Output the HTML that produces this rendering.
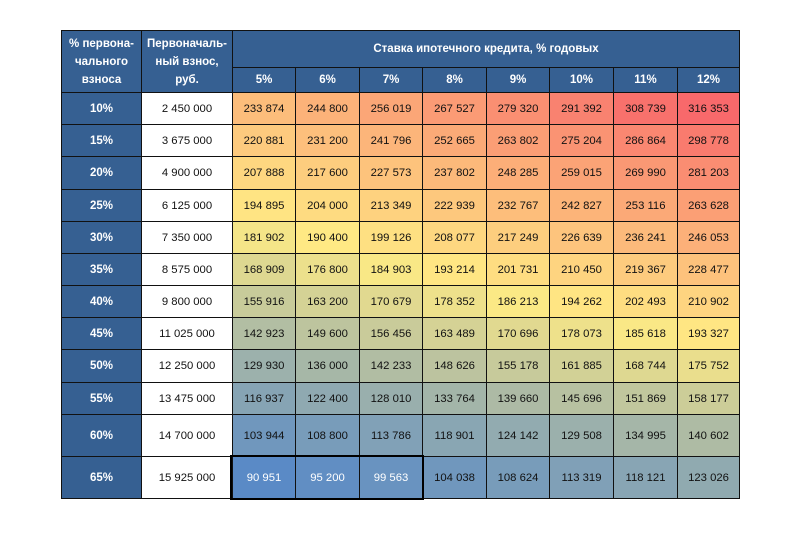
<!DOCTYPE html>
<html><head><meta charset="utf-8">
<style>
html,body{margin:0;padding:0;background:#fff;}
body{width:800px;height:533px;position:relative;overflow:hidden;font-family:"Liberation Sans","DejaVu Sans",sans-serif;}
.g{position:absolute;left:61px;top:30px;width:679px;height:469px;box-sizing:border-box;padding:1px;background:#111;display:grid;gap:1px;
grid-template-columns:79px 90px 62px 63px 62px 63px 62px 63px 63px 61px;
grid-template-rows:36px 24px 31px 31px 32px 31px 31px 31px 31px 31px 32px 31px 41px 41px;}
.g>div{display:flex;align-items:center;justify-content:center;text-align:center;font-size:11.3px;color:#111;}
.h{background:#366092;color:#fff !important;font-weight:bold;font-size:11.5px !important;line-height:18px;}
.w{background:#fff;}
.sel{position:absolute;left:230px;top:455px;width:194px;height:45px;border:2px solid #000;box-sizing:border-box;}
</style></head><body>
<div class="g">
<div class="h" style="grid-row:1/3;grid-column:1">% первона-<br>чального<br>взноса</div>
<div class="h" style="grid-row:1/3;grid-column:2">Первоначаль-<br>ный взнос,<br>руб.</div>
<div class="h" style="grid-row:1;grid-column:3/11">Ставка ипотечного кредита, % годовых</div>
<div class="h">5%</div><div class="h">6%</div><div class="h">7%</div><div class="h">8%</div><div class="h">9%</div><div class="h">10%</div><div class="h">11%</div><div class="h">12%</div>

<div class="h">10%</div><div class="w">2 450 000</div>
<div style="background:rgb(252,189,123)">233 874</div><div style="background:rgb(252,178,121)">244 800</div><div style="background:rgb(251,166,119)">256 019</div><div style="background:rgb(251,155,117)">267 527</div><div style="background:rgb(250,143,114)">279 320</div><div style="background:rgb(249,130,112)">291 392</div><div style="background:rgb(248,113,108)">308 739</div><div style="background:rgb(248,105,107)">316 353</div>

<div class="h">15%</div><div class="w">3 675 000</div>
<div style="background:rgb(253,202,126)">220 881</div><div style="background:rgb(253,191,124)">231 200</div><div style="background:rgb(252,181,122)">241 796</div><div style="background:rgb(251,170,119)">252 665</div><div style="background:rgb(251,158,117)">263 802</div><div style="background:rgb(250,147,115)">275 204</div><div style="background:rgb(250,135,113)">286 864</div><div style="background:rgb(249,123,110)">298 778</div>

<div class="h">20%</div><div class="w">4 900 000</div>
<div style="background:rgb(254,215,128)">207 888</div><div style="background:rgb(253,205,126)">217 600</div><div style="background:rgb(253,195,124)">227 573</div><div style="background:rgb(252,185,122)">237 802</div><div style="background:rgb(252,174,120)">248 285</div><div style="background:rgb(251,163,118)">259 015</div><div style="background:rgb(250,152,116)">269 990</div><div style="background:rgb(250,141,114)">281 203</div>

<div class="h">25%</div><div class="w">6 125 000</div>
<div style="background:rgb(255,228,131)">194 895</div><div style="background:rgb(254,219,129)">204 000</div><div style="background:rgb(254,210,127)">213 349</div><div style="background:rgb(253,200,125)">222 939</div><div style="background:rgb(253,190,123)">232 767</div><div style="background:rgb(252,180,121)">242 827</div><div style="background:rgb(251,169,119)">253 116</div><div style="background:rgb(251,159,117)">263 628</div>

<div class="h">30%</div><div class="w">7 350 000</div>
<div style="background:rgb(244,229,136)">181 902</div><div style="background:rgb(255,233,132)">190 400</div><div style="background:rgb(254,224,130)">199 126</div><div style="background:rgb(254,215,128)">208 077</div><div style="background:rgb(253,206,126)">217 249</div><div style="background:rgb(253,196,125)">226 639</div><div style="background:rgb(252,186,123)">236 241</div><div style="background:rgb(252,176,121)">246 053</div>

<div class="h">35%</div><div class="w">8 575 000</div>
<div style="background:rgb(222,216,145)">168 909</div><div style="background:rgb(236,224,140)">176 800</div><div style="background:rgb(249,232,134)">184 903</div><div style="background:rgb(255,230,131)">193 214</div><div style="background:rgb(254,221,129)">201 731</div><div style="background:rgb(254,212,128)">210 450</div><div style="background:rgb(253,203,126)">219 367</div><div style="background:rgb(253,194,124)">228 477</div>

<div class="h">40%</div><div class="w">9 800 000</div>
<div style="background:rgb(200,203,154)">155 916</div><div style="background:rgb(212,210,149)">163 200</div><div style="background:rgb(225,217,144)">170 679</div><div style="background:rgb(238,225,139)">178 352</div><div style="background:rgb(251,233,133)">186 213</div><div style="background:rgb(255,229,131)">194 262</div><div style="background:rgb(254,221,129)">202 493</div><div style="background:rgb(254,212,128)">210 902</div>

<div class="h">45%</div><div class="w">11 025 000</div>
<div style="background:rgb(178,190,163)">142 923</div><div style="background:rgb(189,196,158)">149 600</div><div style="background:rgb(201,203,154)">156 456</div><div style="background:rgb(213,210,149)">163 489</div><div style="background:rgb(225,217,144)">170 696</div><div style="background:rgb(238,225,139)">178 073</div><div style="background:rgb(250,232,134)">185 618</div><div style="background:rgb(255,230,131)">193 327</div>

<div class="h">50%</div><div class="w">12 250 000</div>
<div style="background:rgb(156,177,172)">129 930</div><div style="background:rgb(166,183,167)">136 000</div><div style="background:rgb(177,189,163)">142 233</div><div style="background:rgb(188,195,159)">148 626</div><div style="background:rgb(199,202,155)">155 178</div><div style="background:rgb(210,209,150)">161 885</div><div style="background:rgb(222,216,145)">168 744</div><div style="background:rgb(234,222,141)">175 752</div>

<div class="h">55%</div><div class="w">13 475 000</div>
<div style="background:rgb(134,164,180)">116 937</div><div style="background:rgb(143,169,177)">122 400</div><div style="background:rgb(153,175,173)">128 010</div><div style="background:rgb(163,181,169)">133 764</div><div style="background:rgb(173,186,165)">139 660</div><div style="background:rgb(183,193,161)">145 696</div><div style="background:rgb(193,199,157)">151 869</div><div style="background:rgb(204,205,152)">158 177</div>

<div class="h">60%</div><div class="w">14 700 000</div>
<div style="background:rgb(112,151,189)">103 944</div><div style="background:rgb(120,156,186)">108 800</div><div style="background:rgb(129,161,183)">113 786</div><div style="background:rgb(137,166,179)">118 901</div><div style="background:rgb(146,171,176)">124 142</div><div style="background:rgb(155,176,172)">129 508</div><div style="background:rgb(165,182,168)">134 995</div><div style="background:rgb(174,187,164)">140 602</div>

<div class="h">65%</div><div class="w">15 925 000</div>
<div style="background:rgb(90,138,198);color:#fff">90 951</div><div style="background:rgb(97,142,195);color:#fff">95 200</div><div style="background:rgb(105,147,192);color:#fff">99 563</div><div style="background:rgb(112,151,189)">104 038</div><div style="background:rgb(120,156,186)">108 624</div><div style="background:rgb(128,160,183)">113 319</div><div style="background:rgb(136,165,180)">118 121</div><div style="background:rgb(144,170,176)">123 026</div>
</div>
<div class="sel"></div>
</body></html>
